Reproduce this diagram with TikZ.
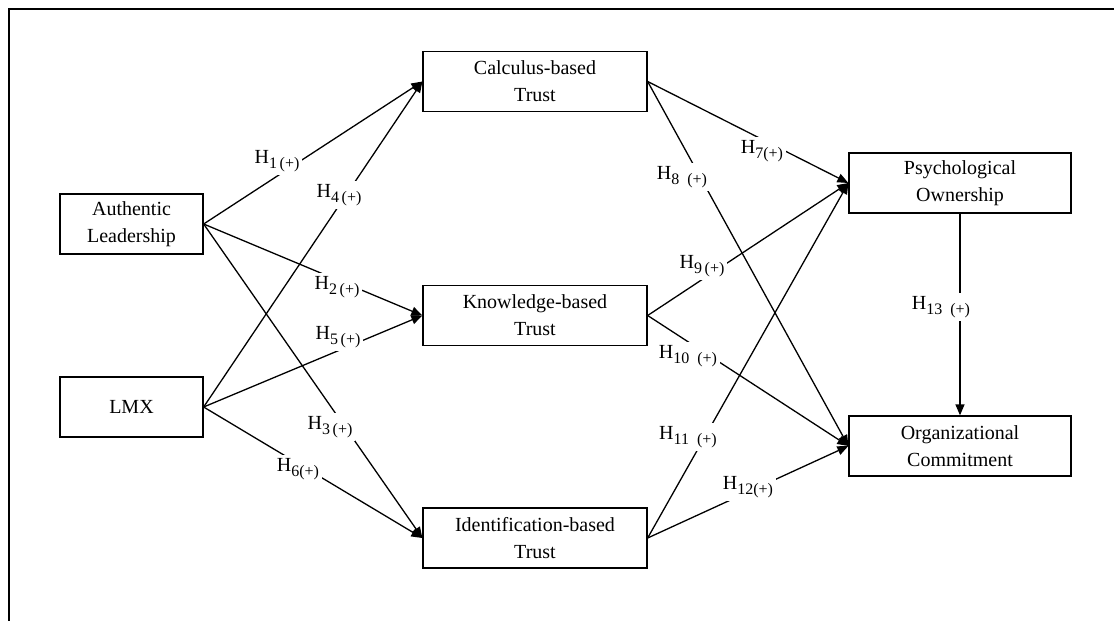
\documentclass[tikz,border=0pt]{standalone}
\usepackage{fontspec}
\setmainfont{Liberation Serif}
\usetikzlibrary{arrows.meta}
\tikzset{ box/.style={draw,line width=1.3pt,minimum width=143pt,minimum height=60pt,align=center,inner sep=2pt,font=\fontsize{20}{27}\selectfont},
  wide/.style={box,minimum width=224pt},
  hyp/.style={fill=white,inner sep=3pt,font=\fontsize{20}{24}\selectfont},
  link/.style={line width=1.3pt,-{Triangle[length=11pt,width=9pt]}} }
\newcommand{\hy}[2][\,]{H\lower5pt\hbox{\fontsize{16}{16}\selectfont #2#1(+)}}

\begin{document}
\begin{tikzpicture}[x=1pt,y=-1pt]
   \useasboundingbox (0,0) rectangle (1114,621);
   \draw[line width=1.5pt] (9,621) -- (9,9) -- (1114,9);
   \node[box] (al) at (131.5,224) {Authentic\\Leadership};
   \node[box] (lmx) at (131.5,407) {LMX};
   \node[wide] (ct) at (535,81.5) {Calculus-based\\Trust};
   \node[wide] (kt) at (535,315.5) {Knowledge-based\\Trust};
   \node[wide] (it) at (535,538) {Identification-based\\Trust};
   \node[box,minimum width=222pt] (po) at (960,183) {Psychological\\Ownership};
   \node[box,minimum width=222pt] (oc) at (960,446) {Organizational\\Commitment};
   \draw[link] (al.east) -- (ct.west);
   \draw[link] (al.east) -- (kt.west);
   \draw[link] (al.east) -- (it.west);
   \draw[link] (lmx.east) -- (ct.west);
   \draw[link] (lmx.east) -- (kt.west);
   \draw[link] (lmx.east) -- (it.west);
   \draw[link] (ct.east) -- (po.west);
   \draw[link] (ct.east) -- (oc.west);
   \draw[link] (kt.east) -- (po.west);
   \draw[link] (kt.east) -- (oc.west);
   \draw[link] (it.east) -- (po.west);
   \draw[link] (it.east) -- (oc.west);
   \draw[link] (po.south) -- (oc.north);
   % hypothesis labels
   \node[hyp] (h1) at (277,161) {\hy{1}};
   \node[hyp] (h2) at (337,287) {\hy{2}};
   \node[hyp] (h3) at (330,427) {\hy{3}};
   \node[hyp] (h4) at (339,195) {\hy{4}};
   \node[hyp] (h5) at (338,337) {\hy{5}};
   \node[hyp] (h6) at (298,469) {\hy[]{6}};
   \node[hyp] (h7) at (762,151) {\hy[]{7}};
   \node[hyp] (h8) at (682,177) {\hy[\enspace]{8}};
   \node[hyp] (h9) at (702,266) {\hy{9}};
   \node[hyp] (h10) at (688,356) {\hy[\enspace]{10}};
   \node[hyp] (h11) at (688,437) {\hy[\enspace]{11}};
   \node[hyp] (h12) at (748,487) {\hy[]{12}};
   \node[hyp] (h13) at (941,307) {\hy[\enspace]{13}};
\end{tikzpicture}
\end{document}
